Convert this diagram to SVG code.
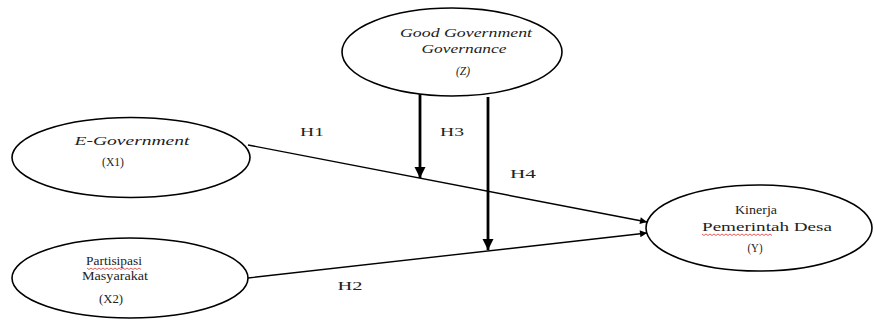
<svg xmlns="http://www.w3.org/2000/svg" width="874" height="320" viewBox="0 0 874 320">
<style>
.node ellipse{fill:#fff;stroke:#000;stroke-width:1.6}
text{font-family:"Liberation Serif","Times New Roman",serif;font-size:12.5px;fill:#222}
.it{font-style:italic}
.conn line{stroke:#000;stroke-width:1.4}
.conn .mod{stroke-width:2.8}
.sq{fill:none;stroke:#d33;stroke-width:0.8}
</style>
<defs>
<marker id="ah" viewBox="0 0 10 10" refX="10" refY="5" markerWidth="8" markerHeight="7" markerUnits="userSpaceOnUse" orient="auto"><path d="M0,0 L10,5 L0,10 z" fill="#000"/></marker>
<marker id="ahb" viewBox="0 0 10 10" refX="10" refY="5" markerWidth="4" markerHeight="4" orient="auto"><path d="M0,0 L10,5 L0,10 z" fill="#000"/></marker>
</defs>
<rect width="874" height="320" fill="#fff"/>
<g class="conn" id="connectors">
<line x1="248" y1="145" x2="647" y2="222" marker-end="url(#ah)"/>
<line x1="248" y1="278" x2="647" y2="233" marker-end="url(#ah)"/>
<line class="mod" x1="420" y1="93" x2="420" y2="178" marker-end="url(#ahb)"/>
<line class="mod" x1="488" y1="97" x2="488" y2="250" marker-end="url(#ahb)"/>
<text x="312" y="136" text-anchor="middle" textLength="24" lengthAdjust="spacingAndGlyphs">H1</text>
<text x="452" y="136" text-anchor="middle" textLength="24" lengthAdjust="spacingAndGlyphs">H3</text>
<text x="523" y="178" text-anchor="middle" textLength="26" lengthAdjust="spacingAndGlyphs">H4</text>
<text x="350" y="290" text-anchor="middle" textLength="25" lengthAdjust="spacingAndGlyphs">H2</text>
</g>
<g class="node" id="node-z">
<ellipse cx="452" cy="52" rx="110" ry="44"/>
<text class="it" x="466" y="37" text-anchor="middle" textLength="132" lengthAdjust="spacingAndGlyphs">Good Government</text>
<text class="it" x="464" y="53" text-anchor="middle" textLength="85" lengthAdjust="spacingAndGlyphs">Governance</text>
<text class="it" x="463" y="75" text-anchor="middle" textLength="14" lengthAdjust="spacingAndGlyphs">(Z)</text>
</g>
<g class="node" id="node-x1">
<ellipse cx="131" cy="157.5" rx="119" ry="40"/>
<text class="it" x="132" y="145" text-anchor="middle" textLength="115" lengthAdjust="spacingAndGlyphs">E-Government</text>
<text x="113" y="166" text-anchor="middle" textLength="22" lengthAdjust="spacingAndGlyphs">(X1)</text>
</g>
<g class="node" id="node-x2">
<ellipse cx="130" cy="278" rx="118" ry="40"/>
<text x="114" y="265" text-anchor="middle" textLength="56" lengthAdjust="spacingAndGlyphs">Partisipasi</text>
<path class="sq" d="M87,268 l2,1.5 l2,-1.5 l2,1.5 l2,-1.5 l2,1.5 l2,-1.5 l2,1.5 l2,-1.5 l2,1.5 l2,-1.5 l2,1.5 l2,-1.5 l2,1.5 l2,-1.5 l2,1.5 l2,-1.5 l2,1.5 l2,-1.5 l2,1.5 l2,-1.5 l2,1.5 l2,-1.5 l2,1.5 l2,-1.5 l2,1.5 l2,-1.5 l2,1.5"/>
<text x="115" y="280" text-anchor="middle" textLength="66" lengthAdjust="spacingAndGlyphs">Masyarakat</text>
<text x="111" y="303" text-anchor="middle" textLength="24" lengthAdjust="spacingAndGlyphs">(X2)</text>
</g>
<g class="node" id="node-y">
<ellipse cx="759" cy="228" rx="113" ry="43"/>
<text x="756" y="214" text-anchor="middle" textLength="42" lengthAdjust="spacingAndGlyphs">Kinerja</text>
<text x="767" y="231" text-anchor="middle" textLength="130" lengthAdjust="spacingAndGlyphs">Pemerintah Desa</text>
<path class="sq" d="M702,234 l2,1.5 l2,-1.5 l2,1.5 l2,-1.5 l2,1.5 l2,-1.5 l2,1.5 l2,-1.5 l2,1.5 l2,-1.5 l2,1.5 l2,-1.5 l2,1.5 l2,-1.5 l2,1.5 l2,-1.5 l2,1.5 l2,-1.5 l2,1.5 l2,-1.5 l2,1.5 l2,-1.5 l2,1.5 l2,-1.5 l2,1.5 l2,-1.5 l2,1.5 l2,-1.5 l2,1.5 l2,-1.5 l2,1.5 l2,-1.5 l2,1.5 l2,-1.5 l2,1.5"/>
<text x="755" y="252" text-anchor="middle" textLength="15" lengthAdjust="spacingAndGlyphs">(Y)</text>
</g>
</svg>
